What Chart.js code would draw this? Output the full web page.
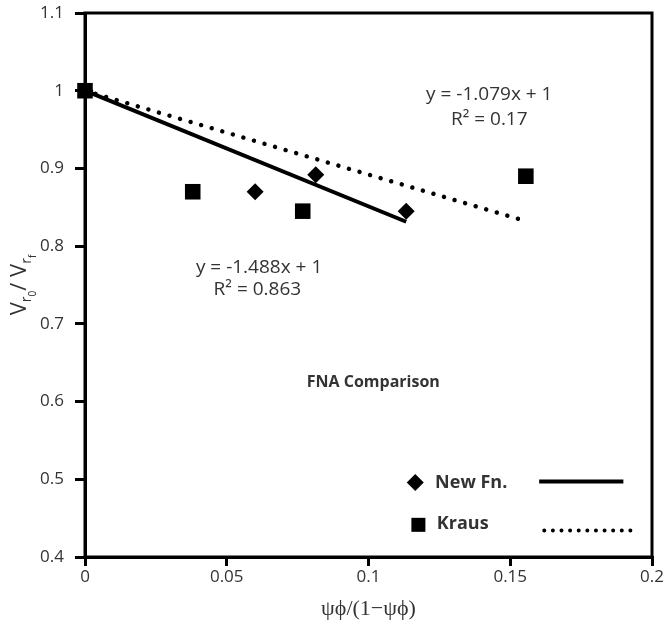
<!DOCTYPE html>
<html>
<head>
<meta charset="utf-8">
<script src="https://cdn.jsdelivr.net/npm/chart.js@4.4.1/dist/chart.umd.min.js"></script>
<style>
body { margin: 0; background: #fff; }
</style>
</head>
<body>
<canvas id="myChart" width="665" height="629"></canvas>
<script>
"use strict";
// values
const xTickValues = [0, 0.05, 0.1, 0.15, 0.2];
const xTickLabels = ['0', '0.05', '0.1', '0.15', '0.2'];
const yTickValues = [0.4, 0.5, 0.6, 0.7, 0.8, 0.9, 1, 1.1];
const yTickLabels = ['0.4', '0.5', '0.6', '0.7', '0.8', '0.9', '1', '1.1'];

const newFnX = [0, 0.060, 0.0814, 0.1133];
const newFnY = [1, 0.870, 0.892, 0.845];
const krausX = [0, 0.038, 0.0768, 0.1555];
const krausY = [1, 0.870, 0.845, 0.890];

// trend lines as printed on the chart
const newFnFit = { slope: -1.488, intercept: 1, r2: '0.863' };
const krausFit = { slope: -1.079, intercept: 1, r2: '0.17' };

const seriesNames = ['New Fn.', 'Kraus'];
const chartTitle = 'FNA Comparison';
const xTitle = 'ψϕ/(1−ψϕ)';

const ink = '#000';
const txt = '#333';
const sans = '"Open Sans", "Liberation Sans", sans-serif';

function pts(xs, ys) {
    return xs.map(function(x, i) { return { x: x, y: ys[i] }; });
}
function fitLine(fit, xs) {
    const x1 = Math.max.apply(null, xs);
    return [{ x: 0, y: fit.intercept }, { x: x1, y: fit.intercept + fit.slope * x1 }];
}
function eqText(fit) {
    return 'y = ' + fit.slope.toFixed(3) + 'x + ' + fit.intercept;
}

// text and legend placed in data units
const notes = [
    { text: eqText(krausFit), x: 0.1426, y: 0.995, font: '19px ' + sans },
    { text: 'R² = ' + krausFit.r2, x: 0.1426, y: 0.963, font: '19px ' + sans },
    { text: eqText(newFnFit), x: 0.0614, y: 0.772, font: '19px ' + sans },
    { text: 'R² = ' + newFnFit.r2, x: 0.0608, y: 0.744, font: '19px ' + sans },
    { text: chartTitle, x: 0.1017, y: 0.624, font: 'bold 16px ' + sans }
];

const overlay = {
    id: 'overlay',
    afterDraw(chart) {
        const ctx = chart.ctx;
        const a = chart.chartArea;
        const sx = chart.scales.x, sy = chart.scales.y;
        const px = function(v) { return sx.getPixelForValue(v); };
        const py = function(v) { return sy.getPixelForValue(v); };
        ctx.save();

        // frame around plot
        ctx.strokeStyle = ink;
        ctx.lineWidth = 3;
        ctx.strokeRect(a.left, a.top, a.right - a.left, a.bottom - a.top);

        // notes
        ctx.fillStyle = txt;
        ctx.textAlign = 'center';
        ctx.textBaseline = 'middle';
        notes.forEach(function(n) {
            ctx.font = n.font;
            ctx.fillText(n.text, px(n.x), py(n.y));
        });

        // legend
        ctx.fillStyle = ink;
        let cx = px(0.1165), cy = py(0.4959), r = 8.5;
        ctx.beginPath();
        ctx.moveTo(cx - r, cy); ctx.lineTo(cx, cy - r); ctx.lineTo(cx + r, cy); ctx.lineTo(cx, cy + r);
        ctx.closePath();
        ctx.fill();
        cx = px(0.1176); cy = py(0.4414);
        ctx.fillRect(cx - 7, cy - 7, 14, 14);

        ctx.fillStyle = txt;
        ctx.textAlign = 'left';
        ctx.font = 'bold 18px ' + sans;
        ctx.fillText(seriesNames[0], px(0.1235), py(0.4959));
        ctx.fillText(seriesNames[1], px(0.1241), py(0.4427));

        ctx.strokeStyle = ink;
        ctx.lineWidth = 4;
        ctx.beginPath();
        ctx.moveTo(px(0.1602), py(0.4972));
        ctx.lineTo(px(0.1899), py(0.4972));
        ctx.stroke();
        ctx.lineCap = 'round';
        ctx.setLineDash([0.01, 8.6]);
        ctx.lineWidth = 4;
        ctx.beginPath();
        ctx.moveTo(px(0.1620), py(0.4341));
        ctx.lineTo(px(0.1924), py(0.4341));
        ctx.stroke();
        ctx.setLineDash([]);

        // y title with subscripts
        const parts = [
            ['V', 22, 0], ['r', 14, 5], ['0', 10, 10], ['/ ', 22, 0],
            ['V', 22, 0], ['r', 14, 5], ['f', 10, 10]
        ];
        let total = 0;
        parts.forEach(function(p) {
            ctx.font = p[1] + 'px ' + sans;
            total += ctx.measureText(p[0]).width;
        });
        ctx.translate(20, (a.top + a.bottom) / 2);
        ctx.rotate(-Math.PI / 2);
        ctx.fillStyle = txt;
        ctx.textBaseline = 'alphabetic';
        let pos = -total / 2;
        parts.forEach(function(p) {
            ctx.font = p[1] + 'px ' + sans;
            ctx.fillText(p[0], pos, 6 + p[2]);
            pos += ctx.measureText(p[0]).width;
        });
        ctx.restore();
    }
};

const ctxEl = document.getElementById('myChart');
var myChart = new Chart(ctxEl, {
    type: 'scatter',
    data: {
        datasets: [{
                label: seriesNames[0],
                data: pts(newFnX, newFnY),
                pointStyle: 'rectRot',
                pointRadius: 8.5,
                backgroundColor: ink,
                borderColor: ink,
                borderWidth: 0,
                clip: false
            },
            {
                label: seriesNames[1],
                data: pts(krausX, krausY),
                pointStyle: 'rect',
                pointRadius: 11,
                backgroundColor: ink,
                borderColor: ink,
                borderWidth: 0,
                clip: false
            },
            {
                label: 'Linear (' + seriesNames[0] + ')',
                data: fitLine(newFnFit, newFnX),
                showLine: true,
                pointRadius: 0,
                borderColor: ink,
                borderWidth: 4,
                clip: false
            },
            {
                label: 'Linear (' + seriesNames[1] + ')',
                data: fitLine(krausFit, krausX),
                showLine: true,
                pointRadius: 0,
                borderColor: ink,
                borderWidth: 4.5,
                borderCapStyle: 'round',
                borderDash: [0.01, 11],
                clip: false
            }
        ]
    },
    options: {
        responsive: false,
        animation: false,
        events: [],
        layout: { padding: { top: 13, right: 13, left: 0, bottom: 0 } },
        plugins: {
            legend: { display: false },
            tooltip: { enabled: false }
        },
        scales: {
            x: {
                type: 'linear',
                min: 0,
                max: 0.2,
                afterBuildTicks: function(s) { s.ticks = xTickValues.map(function(v) { return { value: v }; }); },
                afterFit: function(s) { s.height = 72; s.paddingLeft = 0; s.paddingRight = 0; },
                grid: { drawOnChartArea: false, tickLength: 9, tickWidth: 3, lineWidth: 3, color: ink, tickColor: ink },
                border: { display: true, width: 3, color: ink },
                ticks: {
                    padding: 1,
                    color: txt,
                    font: { family: sans, size: 17 },
                    maxRotation: 0,
                    callback: function(v, i) { return xTickLabels[i]; }
                },
                title: {
                    display: true,
                    text: xTitle,
                    color: txt,
                    font: { family: '"Liberation Serif", "DejaVu Serif", serif', size: 22 },
                    padding: { top: 0, bottom: 7 }
                }
            },
            y: {
                type: 'linear',
                min: 0.4,
                max: 1.1,
                afterBuildTicks: function(s) { s.ticks = yTickValues.map(function(v) { return { value: v }; }); },
                afterFit: function(s) { s.width = 85; s.paddingTop = 0; s.paddingBottom = 0; },
                grid: { drawOnChartArea: false, tickLength: 10, tickWidth: 3, lineWidth: 3, color: ink, tickColor: ink },
                border: { display: true, width: 3, color: ink },
                ticks: {
                    padding: 11,
                    color: txt,
                    font: { family: sans, size: 17 },
                    callback: function(v, i) { return yTickLabels[i]; }
                }
            }
        }
    },
    plugins: [overlay]
});
</script>
</body>
</html>
